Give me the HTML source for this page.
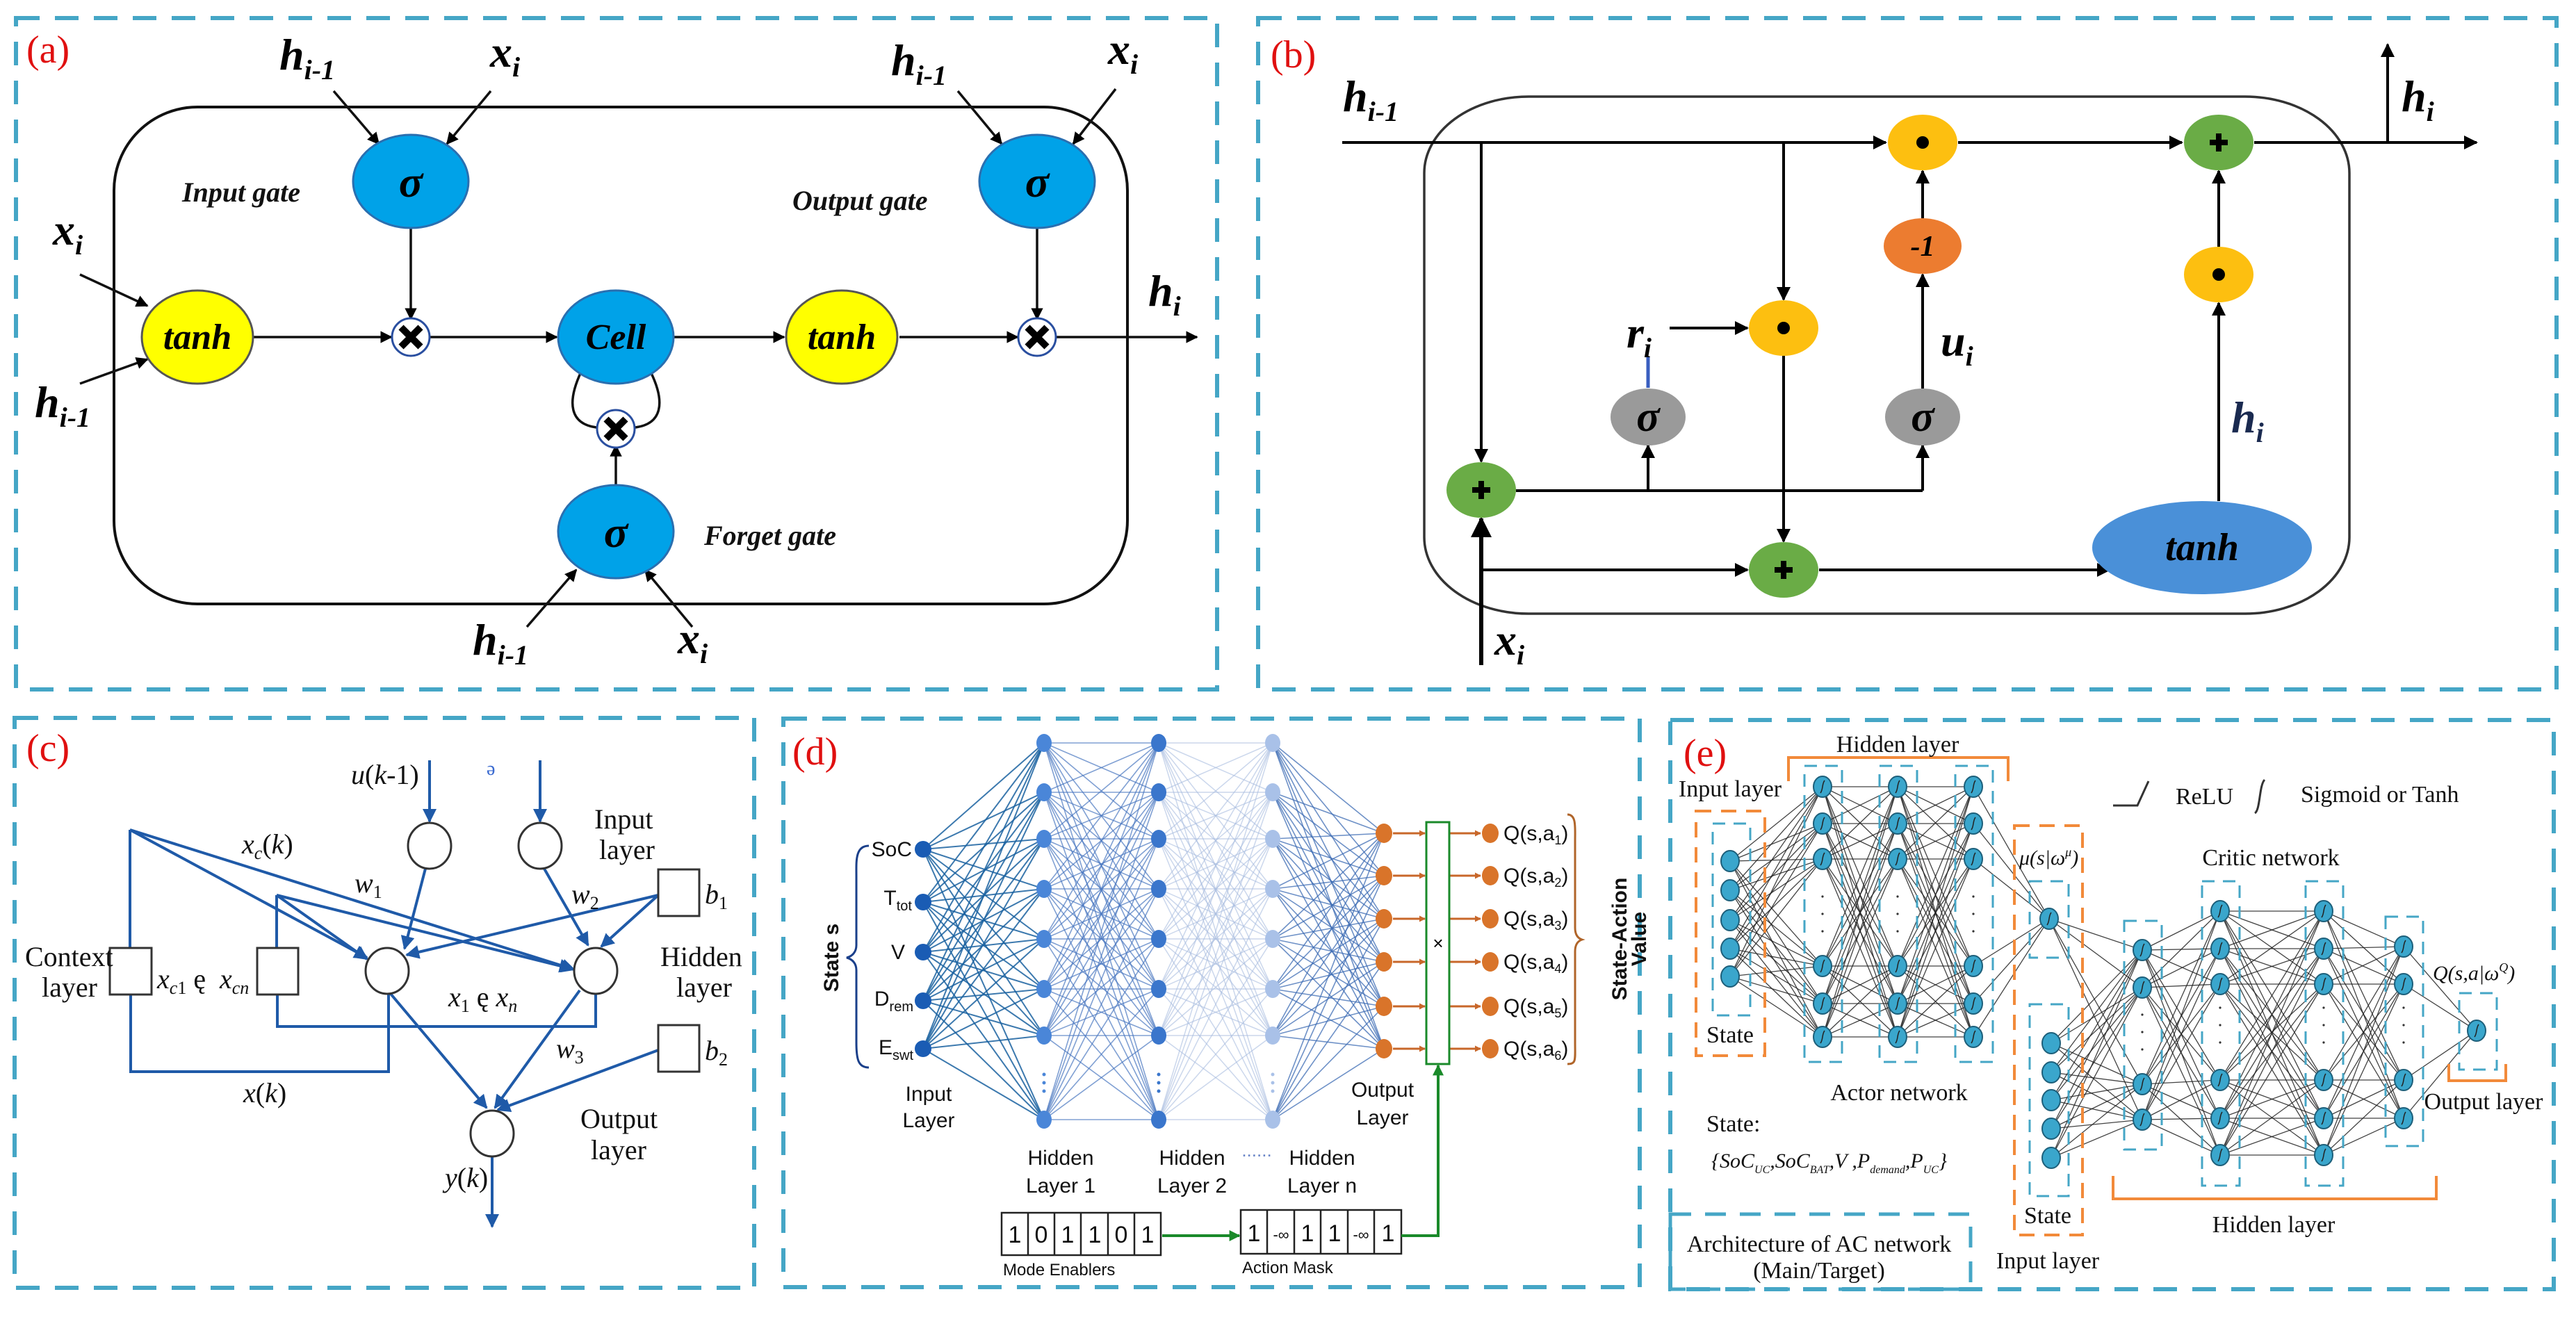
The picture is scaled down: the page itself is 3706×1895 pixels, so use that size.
<!DOCTYPE html>
<html><head><meta charset="utf-8"><style>
html,body{margin:0;padding:0;background:#fff}
svg{display:block}
.s{font-family:"Liberation Serif",serif}
.bi{font-family:"Liberation Serif",serif;font-style:italic;font-weight:bold}
.sa{font-family:"Liberation Sans",sans-serif}
</style></head><body>
<svg id="sv" width="3706" height="1895" viewBox="0 0 3706 1895" xmlns="http://www.w3.org/2000/svg">
<defs>
<marker id="ak" viewBox="0 0 10 10" refX="9" refY="5" markerWidth="5" markerHeight="5" orient="auto-start-reverse"><path d="M0,0L10,5L0,10z" fill="#000"/></marker>
<marker id="ab" viewBox="0 0 10 10" refX="9" refY="5" markerWidth="5" markerHeight="5" orient="auto"><path d="M0,0L10,5L0,10z" fill="#1f5aa8"/></marker>
<marker id="ao" viewBox="0 0 10 10" refX="9" refY="5" markerWidth="3" markerHeight="3" orient="auto"><path d="M0,0L10,5L0,10z" fill="#c8672a"/></marker>
<marker id="ag" viewBox="0 0 10 10" refX="9" refY="5" markerWidth="4" markerHeight="4" orient="auto"><path d="M0,0L10,5L0,10z" fill="#1a8a2a"/></marker>
<marker id="as" viewBox="0 0 10 10" refX="9" refY="5" markerWidth="5" markerHeight="5" orient="auto"><path d="M0,0L10,5L0,10z" fill="#222"/></marker>
</defs>
<rect width="3706" height="1895" fill="#fff"/>
<g fill="none" stroke="#45a6c6" stroke-width="6" stroke-dasharray="34 22">
<rect x="23" y="26" width="1728" height="966"/>
<rect x="1810" y="26" width="1868" height="966"/>
<rect x="21" y="1033" width="1064" height="820"/>
<rect x="1127" y="1034" width="1232" height="818"/>
<rect x="2403" y="1036" width="1271" height="819"/>
</g>
<g class="s" fill="#e01010" font-size="56">
<text x="38" y="90">(a)</text><text x="1828" y="97">(b)</text><text x="38" y="1095">(c)</text><text x="1140" y="1100">(d)</text><text x="2422" y="1102">(e)</text>
</g>

<!-- ===== (a) ===== -->
<rect x="164" y="154" width="1458" height="715" rx="120" fill="none" stroke="#111" stroke-width="4"/>
<g stroke="#111" stroke-width="3.5" fill="none" marker-end="url(#ak)">
<line x1="480" y1="131" x2="545" y2="207"/><line x1="706" y1="131" x2="643" y2="207"/>
<line x1="1378" y1="131" x2="1441" y2="207"/><line x1="1605" y1="128" x2="1544" y2="207"/>
<line x1="115" y1="395" x2="212" y2="440"/><line x1="115" y1="552" x2="212" y2="517"/>
<line x1="758" y1="902" x2="829" y2="820"/><line x1="996" y1="902" x2="928" y2="820"/>
<line x1="591" y1="328" x2="591" y2="459"/><line x1="1492" y1="328" x2="1492" y2="459"/>
<line x1="364" y1="485" x2="563" y2="485"/><line x1="617" y1="485" x2="801" y2="485"/>
<line x1="969" y1="485" x2="1128" y2="485"/><line x1="1294" y1="485" x2="1464" y2="485"/>
<line x1="1518" y1="485" x2="1722" y2="485"/><line x1="886" y1="698" x2="886" y2="641"/>
</g>
<path d="M836,535 C815,580 820,610 858,615 M936,535 C958,580 952,610 914,615" stroke="#111" stroke-width="3.5" fill="none"/>
<g stroke="#2a6fb0" stroke-width="3" fill="#00a2e8">
<ellipse cx="591" cy="261" rx="83" ry="67"/><ellipse cx="1492" cy="261" rx="83" ry="67"/>
<ellipse cx="886" cy="485" rx="83" ry="67"/><ellipse cx="886" cy="765" rx="83" ry="67"/>
</g>
<g stroke="#555" stroke-width="3" fill="#ffff00"><ellipse cx="284" cy="485" rx="80" ry="67"/><ellipse cx="1211" cy="485" rx="80" ry="67"/></g>
<g fill="#fff" stroke="#2a4fa0" stroke-width="3"><circle cx="591" cy="485" r="27"/><circle cx="1492" cy="485" r="27"/><circle cx="886" cy="617" r="27"/></g>
<g stroke="#000" stroke-width="10"><path d="M577,471L605,499M605,471L577,499"/><path d="M1478,471L1506,499M1506,471L1478,499"/><path d="M872,603L900,631M900,603L872,631"/></g>
<g class="bi" font-size="64" text-anchor="middle" fill="#000">
<text x="591" y="283">σ</text><text x="1492" y="283">σ</text><text x="886" y="787">σ</text>
</g>
<g class="bi" font-size="52" text-anchor="middle" fill="#000"><text x="284" y="502">tanh</text><text x="1211" y="502">tanh</text><text x="886" y="502">Cell</text></g>
<g class="bi" font-size="40" fill="#111"><text x="262" y="290">Input gate</text><text x="1140" y="302">Output gate</text><text x="1013" y="784">Forget gate</text></g>
<g class="bi" font-size="64" fill="#000">
<text x="402" y="100">h<tspan font-size="40" dy="14">i-1</tspan></text>
<text x="705" y="96">x<tspan font-size="40" dy="14">i</tspan></text>
<text x="1282" y="108">h<tspan font-size="40" dy="14">i-1</tspan></text>
<text x="1594" y="92">x<tspan font-size="40" dy="14">i</tspan></text>
<text x="76" y="352">x<tspan font-size="40" dy="14">i</tspan></text>
<text x="50" y="600">h<tspan font-size="40" dy="14">i-1</tspan></text>
<text x="1652" y="440">h<tspan font-size="40" dy="14">i</tspan></text>
<text x="680" y="942">h<tspan font-size="40" dy="14">i-1</tspan></text>
<text x="975" y="940">x<tspan font-size="40" dy="14">i</tspan></text>
</g>

<!-- ===== (b) ===== -->
<rect x="2049" y="139" width="1331" height="744" rx="150" ry="110" fill="none" stroke="#333" stroke-width="3.5"/>
<g stroke="#000" stroke-width="4" fill="none">
<line x1="1931" y1="205" x2="2713" y2="205" marker-end="url(#ak)"/>
<line x1="2817" y1="205" x2="3139" y2="205" marker-end="url(#ak)"/>
<line x1="3243" y1="205" x2="3563" y2="205" marker-end="url(#ak)"/>
<line x1="3435" y1="205" x2="3435" y2="64" marker-end="url(#ak)"/>
<line x1="2131" y1="205" x2="2131" y2="664" marker-end="url(#ak)"/>
<line x1="2131" y1="957" x2="2131" y2="746" marker-end="url(#ak)" stroke-width="6"/>
<line x1="2131" y1="820" x2="2514" y2="820" marker-end="url(#ak)"/>
<line x1="2181" y1="706" x2="2766" y2="706"/>
<line x1="2371" y1="706" x2="2371" y2="641" marker-end="url(#ak)"/>
<line x1="2766" y1="706" x2="2766" y2="641" marker-end="url(#ak)"/>
<line x1="2566" y1="205" x2="2566" y2="431" marker-end="url(#ak)"/>
<line x1="2566" y1="512" x2="2566" y2="779" marker-end="url(#ak)"/>
<line x1="2402" y1="472" x2="2514" y2="472" marker-end="url(#ak)"/>
<line x1="2766" y1="559" x2="2766" y2="395" marker-end="url(#ak)"/>
<line x1="2766" y1="314" x2="2766" y2="246" marker-end="url(#ak)"/>
<line x1="3192" y1="355" x2="3192" y2="246" marker-end="url(#ak)"/>
<line x1="3192" y1="721" x2="3192" y2="436" marker-end="url(#ak)"/>
<line x1="2617" y1="820" x2="3035" y2="820" marker-end="url(#ak)"/>
</g>
<line x1="2371" y1="513" x2="2371" y2="558" stroke="#3a5fc0" stroke-width="5"/>
<g stroke="none">
<ellipse cx="2766" cy="205" rx="50" ry="40" fill="#fdbf10"/>
<ellipse cx="3192" cy="395" rx="50" ry="40" fill="#fdbf10"/>
<ellipse cx="2566" cy="472" rx="50" ry="40" fill="#fdbf10"/>
<ellipse cx="2766" cy="354" rx="56" ry="40" fill="#ec7c30"/>
<ellipse cx="3192" cy="205" rx="50" ry="40" fill="#6aac46"/>
<ellipse cx="2131" cy="705" rx="50" ry="40" fill="#6aac46"/>
<ellipse cx="2566" cy="820" rx="50" ry="40" fill="#6aac46"/>
<ellipse cx="2371" cy="600" rx="54" ry="41" fill="#9a9a9a"/>
<ellipse cx="2766" cy="600" rx="54" ry="41" fill="#9a9a9a"/>
<ellipse cx="3168" cy="788" rx="158" ry="67" fill="#4a90d8"/>
</g>
<g fill="#000"><circle cx="2766" cy="205" r="9"/><circle cx="3192" cy="395" r="9"/><circle cx="2566" cy="472" r="9"/></g>
<g stroke="#000" stroke-width="8"><path d="M3192,192V218M3179,205H3205"/><path d="M2131,692V718M2118,705H2144"/><path d="M2566,807V833M2553,820H2579"/></g>
<g class="bi" text-anchor="middle" fill="#000"><text x="2766" y="368" font-size="42">-1</text>
<text x="2371" y="620" font-size="62">σ</text><text x="2766" y="620" font-size="62">σ</text><text x="3168" y="806" font-size="56">tanh</text></g>
<g class="bi" font-size="64" fill="#000">
<text x="1932" y="160">h<tspan font-size="40" dy="14">i-1</tspan></text>
<text x="3455" y="160">h<tspan font-size="40" dy="14">i</tspan></text>
<text x="2340" y="500">r<tspan font-size="40" dy="14">i</tspan></text>
<text x="2792" y="512">u<tspan font-size="40" dy="14">i</tspan></text>
<text x="3210" y="622" fill="#1a2a50">h<tspan font-size="40" dy="14">i</tspan></text>
<text x="2150" y="942">x<tspan font-size="40" dy="14">i</tspan></text>
</g>

<!-- ===== (c) ===== -->
<g stroke="#1f5aa8" stroke-width="4" fill="none">
<line x1="618" y1="1094" x2="618" y2="1182" marker-end="url(#ab)"/>
<line x1="777" y1="1094" x2="777" y2="1182" marker-end="url(#ab)"/>
<path d="M187,1364V1194"/>
<line x1="187" y1="1194" x2="528" y2="1378" marker-end="url(#ab)"/>
<line x1="187" y1="1194" x2="826" y2="1395" marker-end="url(#ab)"/>
<path d="M398,1364V1288"/>
<line x1="398" y1="1288" x2="528" y2="1380" marker-end="url(#ab)"/>
<line x1="398" y1="1288" x2="823" y2="1394" marker-end="url(#ab)"/>
<path d="M188,1431V1542H559V1430"/>
<path d="M399,1431V1477H857V1430"/>
<line x1="947" y1="1288" x2="585" y2="1374" marker-end="url(#ab)"/>
<line x1="947" y1="1288" x2="865" y2="1362" marker-end="url(#ab)"/>
<line x1="612" y1="1250" x2="582" y2="1365" marker-end="url(#ab)"/>
<line x1="783" y1="1250" x2="846" y2="1360" marker-end="url(#ab)"/>
<line x1="562" y1="1430" x2="700" y2="1594" marker-end="url(#ab)"/>
<line x1="834" y1="1425" x2="712" y2="1594" marker-end="url(#ab)"/>
<line x1="947" y1="1511" x2="716" y2="1597" marker-end="url(#ab)"/>
<line x1="708" y1="1664" x2="708" y2="1765" marker-end="url(#ab)"/>
</g>
<g fill="#fff" stroke="#333" stroke-width="3">
<ellipse cx="618" cy="1217" rx="31" ry="33"/><ellipse cx="777" cy="1217" rx="31" ry="33"/>
<ellipse cx="557" cy="1397" rx="31" ry="33"/><ellipse cx="857" cy="1397" rx="31" ry="33"/>
<ellipse cx="708" cy="1631" rx="31" ry="33"/>
<rect x="947" y="1251" width="59" height="67"/><rect x="947" y="1475" width="59" height="67"/>
<rect x="158" y="1364" width="60" height="67"/><rect x="370" y="1364" width="59" height="67"/>
</g>
<g class="s" font-size="40" fill="#111">
<text x="855" y="1192">Input</text><text x="862" y="1236">layer</text>
<text x="950" y="1390">Hidden</text><text x="973" y="1434">layer</text>
<text x="36" y="1390">Context</text><text x="60" y="1434">layer</text>
<text x="835" y="1623">Output</text><text x="850" y="1668">layer</text>
<text x="505" y="1128" font-style="italic">u<tspan font-style="normal">(</tspan>k<tspan font-style="normal">-1)</tspan></text>
<text x="700" y="1115" fill="#3a6ad0" font-size="28">ə</text>
<text x="348" y="1228" font-style="italic">x<tspan font-size="26" dy="8">c</tspan><tspan dy="-8" font-style="normal">(</tspan>k<tspan font-style="normal">)</tspan></text>
<text x="510" y="1284" font-style="italic">w<tspan font-size="26" dy="8" font-style="normal">1</tspan></text>
<text x="822" y="1300" font-style="italic">w<tspan font-size="26" dy="8" font-style="normal">2</tspan></text>
<text x="800" y="1522" font-style="italic">w<tspan font-size="26" dy="8" font-style="normal">3</tspan></text>
<text x="1014" y="1300" font-style="italic">b<tspan font-size="26" dy="8" font-style="normal">1</tspan></text>
<text x="1014" y="1525" font-style="italic">b<tspan font-size="26" dy="8" font-style="normal">2</tspan></text>
<text x="226" y="1422" font-style="italic">x<tspan font-size="26" dy="8">c</tspan><tspan font-size="26" font-style="normal">1</tspan><tspan dy="-8" font-style="normal"> ę</tspan></text>
<text x="316" y="1422" font-style="italic">x<tspan font-size="26" dy="8">cn</tspan></text>
<text x="645" y="1448" font-style="italic">x<tspan font-size="26" dy="8" font-style="normal">1</tspan><tspan dy="-8" font-style="normal"> ę  </tspan>x<tspan font-size="26" dy="8">n</tspan></text>
<text x="350" y="1586" font-style="italic"><tspan>x</tspan><tspan font-style="normal">(</tspan>k<tspan font-style="normal">)</tspan></text>
<text x="640" y="1708" font-style="italic">y<tspan font-style="normal">(</tspan>k<tspan font-style="normal">)</tspan></text>
</g>

<!-- ===== (d) ===== -->
<g id="dnet"></g>
<path d="M1250,1217 C1230,1217 1232,1240 1232,1260 L1232,1360 C1232,1370 1226,1376 1218,1378 C1226,1380 1232,1386 1232,1396 L1232,1500 C1232,1525 1235,1536 1250,1536" fill="none" stroke="#1a3f8a" stroke-width="3"/>
<path d="M2255,1172 C2268,1172 2266,1190 2266,1210 L2266,1335 C2266,1345 2270,1350 2276,1352 C2270,1354 2266,1359 2266,1369 L2266,1500 C2266,1525 2268,1531 2255,1531" fill="none" stroke="#b0652a" stroke-width="3"/>
<rect x="2052" y="1183" width="33" height="348" fill="#fff" stroke="#1a8a2a" stroke-width="3"/>
<text x="2069" y="1366" class="sa" font-size="26" text-anchor="middle">×</text>
<g class="sa" font-size="30" fill="#111" text-anchor="end">
<text x="1312" y="1232">SoC</text>
<text x="1312" y="1302">T<tspan font-size="20" dy="8">tot</tspan></text>
<text x="1302" y="1380">V</text>
<text x="1314" y="1447">D<tspan font-size="20" dy="8">rem</tspan></text>
<text x="1314" y="1517">E<tspan font-size="20" dy="8">swt</tspan></text>
</g>
<g class="sa" font-weight="bold" font-size="30" fill="#111" text-anchor="middle">
<text x="1206" y="1378" transform="rotate(-90 1206 1378)">State s</text>
<text x="2340" y="1351" transform="rotate(-90 2340 1351)">State-Action</text>
<text x="2368" y="1351" transform="rotate(-90 2368 1351)">Value</text>
</g>
<g class="sa" font-size="30" fill="#111" text-anchor="middle">
<text x="1336" y="1584">Input</text><text x="1336" y="1622">Layer</text>
<text x="1526" y="1676">Hidden</text><text x="1526" y="1716">Layer 1</text>
<text x="1715" y="1676">Hidden</text><text x="1715" y="1716">Layer 2</text>
<text x="1902" y="1676">Hidden</text><text x="1902" y="1716">Layer n</text>
<text x="1808" y="1664" fill="#6a86c8" font-size="26">......</text>
<text x="1989" y="1578">Output</text><text x="1989" y="1618">Layer</text>
</g>
<g class="sa" font-size="30" fill="#111">
<text x="2163" y="1209">Q(s,a<tspan font-size="18" dy="6">1</tspan><tspan dy="-6">)</tspan></text>
<text x="2163" y="1270">Q(s,a<tspan font-size="18" dy="6">2</tspan><tspan dy="-6">)</tspan></text>
<text x="2163" y="1332">Q(s,a<tspan font-size="18" dy="6">3</tspan><tspan dy="-6">)</tspan></text>
<text x="2163" y="1394">Q(s,a<tspan font-size="18" dy="6">4</tspan><tspan dy="-6">)</tspan></text>
<text x="2163" y="1458">Q(s,a<tspan font-size="18" dy="6">5</tspan><tspan dy="-6">)</tspan></text>
<text x="2163" y="1519">Q(s,a<tspan font-size="18" dy="6">6</tspan><tspan dy="-6">)</tspan></text>
</g>
<g fill="#fff" stroke="#222" stroke-width="2.5">
<rect x="1441" y="1745" width="229" height="61"/><rect x="1785" y="1741" width="231" height="63"/>
</g>
<g stroke="#222" stroke-width="2.5">
<path d="M1479,1745V1806M1517,1745V1806M1555,1745V1806M1594,1745V1806M1632,1745V1806"/>
<path d="M1823,1741V1804M1862,1741V1804M1900,1741V1804M1939,1741V1804M1977,1741V1804"/>
</g>
<g class="sa" font-size="34" text-anchor="middle" fill="#111">
<text x="1460" y="1788">1</text><text x="1498" y="1788">0</text><text x="1536" y="1788">1</text><text x="1575" y="1788">1</text><text x="1613" y="1788">0</text><text x="1651" y="1788">1</text>
<text x="1804" y="1786">1</text><text x="1843" y="1784" font-size="22">-∞</text><text x="1881" y="1786">1</text><text x="1920" y="1786">1</text><text x="1958" y="1784" font-size="22">-∞</text><text x="1997" y="1786">1</text>
</g>
<g class="sa" font-size="24" fill="#111"><text x="1443" y="1835">Mode Enablers</text><text x="1787" y="1832">Action Mask</text></g>
<g stroke="#1a8a2a" stroke-width="4" fill="none">
<line x1="1672" y1="1778" x2="1783" y2="1778" marker-end="url(#ag)"/>
<path d="M2016,1778H2069V1533" marker-end="url(#ag)"/>
</g>

<!-- ===== (e) ===== -->
<g id="enet"></g>
<g fill="none" stroke="#f28a3a" stroke-width="4" stroke-dasharray="22 14">
<rect x="2440" y="1167" width="99" height="352"/>
<rect x="2898" y="1188" width="98" height="589"/>
</g>
<g fill="none" stroke="#f28a3a" stroke-width="4">
<path d="M2573,1124V1090H2889V1124"/>
<path d="M3040,1692V1725H3505V1692"/>
<path d="M3523,1531V1555H3605V1531"/>
</g>
<g fill="none" stroke="#45a6c6" stroke-width="3" stroke-dasharray="18 12">
<rect x="2464" y="1185" width="54" height="276"/>
<rect x="2596" y="1102" width="54" height="426"/><rect x="2704" y="1102" width="54" height="426"/><rect x="2813" y="1102" width="54" height="426"/>
<rect x="2920" y="1268" width="56" height="110"/><rect x="2920" y="1445" width="56" height="276"/>
<rect x="3056" y="1325" width="54" height="329"/><rect x="3168" y="1268" width="54" height="438"/><rect x="3317" y="1268" width="54" height="438"/><rect x="3432" y="1319" width="54" height="330"/>
<rect x="3538" y="1429" width="54" height="110"/>
</g>
<rect x="2403" y="1747" width="432" height="108" fill="none" stroke="#45a6c6" stroke-width="5" stroke-dasharray="30 20"/>
<g class="s" font-size="34" fill="#111">
<text x="2730" y="1082" text-anchor="middle">Hidden layer</text>
<text x="2489" y="1146" text-anchor="middle">Input layer</text>
<text x="2489" y="1500" text-anchor="middle">State</text>
<text x="2946" y="1760" text-anchor="middle">State</text>
<text x="2946" y="1825" text-anchor="middle">Input layer</text>
<text x="3267" y="1245" text-anchor="middle">Critic network</text>
<text x="3271" y="1773" text-anchor="middle">Hidden layer</text>
<text x="3573" y="1596" text-anchor="middle">Output layer</text>
<text x="2732" y="1583" text-anchor="middle">Actor network</text>
<text x="2455" y="1628">State:</text>
<text x="2617" y="1801" text-anchor="middle">Architecture of AC network</text>
<text x="2617" y="1839" text-anchor="middle">(Main/Target)</text>
<text x="3130" y="1157">ReLU</text>
<text x="3310" y="1154">Sigmoid or Tanh</text>
<text x="2905" y="1244" font-style="italic" font-size="30">μ(s|ω<tspan font-size="18" dy="-12">μ</tspan><tspan dy="12">)</tspan></text>
<text x="3500" y="1410" font-style="italic" font-size="30">Q(s,a|ω<tspan font-size="18" dy="-12">Q</tspan><tspan dy="12">)</tspan></text>
<text x="2462" y="1680" font-style="italic" font-size="30">{SoC<tspan font-size="16" dy="8">UC</tspan><tspan dy="-8">,SoC</tspan><tspan font-size="16" dy="8">BAT</tspan><tspan dy="-8">,V ,P</tspan><tspan font-size="16" dy="8">demand</tspan><tspan dy="-8">,P</tspan><tspan font-size="16" dy="8">UC</tspan><tspan dy="-8">}</tspan></text>
</g>
<path d="M3040,1159H3075L3091,1124" fill="none" stroke="#333" stroke-width="3"/>
<path d="M3244,1170C3252,1165 3250,1130 3258,1122" fill="none" stroke="#333" stroke-width="3"/>
</svg>
<script>
var NS="http://www.w3.org/2000/svg";
function el(p,t,a){var e=document.createElementNS(NS,t);for(var k in a)e.setAttribute(k,a[k]);p.appendChild(e);return e;}
var d=document.getElementById('dnet');
var inY=[1222,1298,1370,1440,1509];
var hY=[1069,1140,1207,1279,1351,1423,1490,1611];
var oY=[1199,1260,1322,1384,1448,1509];
function conn(g,x1,Y1,x2,Y2,c,w,o){for(var i=0;i<Y1.length;i++)for(var j=0;j<Y2.length;j++)el(g,'line',{x1:x1,y1:Y1[i],x2:x2,y2:Y2[j],stroke:c,'stroke-width':w,'stroke-opacity':o});}
conn(d,1328,inY,1502,hY,'#1a62a0',2,0.85);
conn(d,1502,hY,1667,hY,'#4a78c0',1.6,0.7);
conn(d,1667,hY,1831,hY,'#a8bde0',1.5,0.6);
conn(d,1831,hY,1991,oY,'#3e6cb4',1.6,0.75);
inY.forEach(function(y){el(d,'circle',{cx:1328,cy:y,r:12,fill:'#1a5cb4'});});
[[1502,'#4a86d8'],[1667,'#3a76cc'],[1831,'#a9c1e8']].forEach(function(c){hY.forEach(function(y){el(d,'ellipse',{cx:c[0],cy:y,rx:11,ry:13,fill:c[1]});});
 [1546,1558,1570].forEach(function(y){el(d,'circle',{cx:c[0],cy:y,r:2.5,fill:c[1]});});});
oY.forEach(function(y){el(d,'line',{x1:2004,y1:y,x2:2050,y2:y,stroke:'#c8672a','stroke-width':3,'marker-end':'url(#ao)'});
 el(d,'line',{x1:2085,y1:y,x2:2130,y2:y,stroke:'#c8672a','stroke-width':3,'marker-end':'url(#ao)'});
 el(d,'ellipse',{cx:1991,cy:y,rx:12,ry:14,fill:'#d9742a'});el(d,'ellipse',{cx:2144,cy:y,rx:12,ry:14,fill:'#d9742a'});});
var e=document.getElementById('enet');
var aIn=[1239,1281,1324,1365,1405], aH=[1132,1185,1236,1390,1444,1492];
var cS=[1501,1543,1583,1624,1666], c1=[1367,1421,1560,1611], c2=[1311,1365,1416,1554,1609,1662], c4=[1362,1416,1554,1609];
function ec(x1,Y1,x2,Y2){conn(e,x1,Y1,x2,Y2,'#222',1.3,0.85);}
ec(2489,aIn,2622,aH);ec(2622,aH,2730,aH);ec(2730,aH,2839,aH);ec(2839,aH,2948,[1322]);
ec(2948,[1322],3082,c1);ec(2951,cS,3082,c1);ec(3082,c1,3194,c2);ec(3194,c2,3343,c2);ec(3343,c2,3458,c4);ec(3458,c4,3563,[1483]);
function nodes(x,Y,act){Y.forEach(function(y){el(e,'ellipse',{cx:x,cy:y,rx:13,ry:15,fill:'#3aa6cc',stroke:'#1d5f7a','stroke-width':2});
 if(act)el(e,'path',{d:'M'+(x-3)+','+(y+9)+'C'+(x+1)+','+(y+4)+' '+(x-1)+','+(y-4)+' '+(x+3)+','+(y-9),fill:'none',stroke:'#222','stroke-width':1.5});});}
function dots(x,a,b){for(var y=a;y<=b;y+=25)el(e,'circle',{cx:x,cy:y,r:1.6,fill:'#333'});}
nodes(2489,aIn);[2622,2730,2839].forEach(function(x){nodes(x,aH,true);dots(x,1290,1360);});
nodes(2948,[1322],true);nodes(2951,cS);nodes(3082,c1,true);dots(3082,1460,1530);
nodes(3194,c2,true);dots(3194,1450,1520);nodes(3343,c2,true);dots(3343,1450,1520);nodes(3458,c4,true);dots(3458,1450,1520);nodes(3563,[1483],true);
</script>
</body></html>
